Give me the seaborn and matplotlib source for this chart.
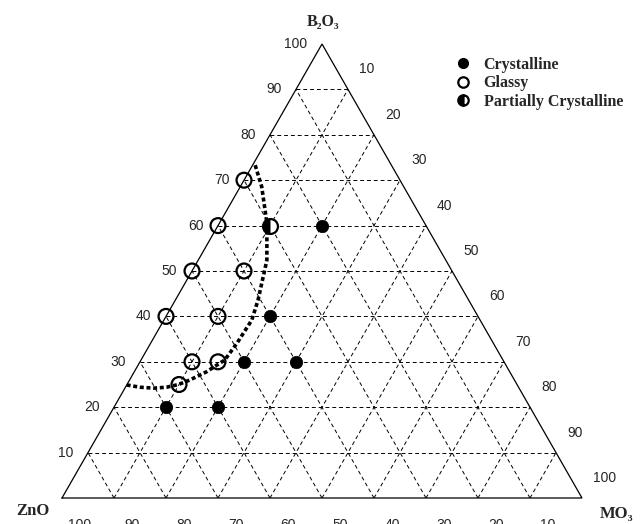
import numpy as np
import pandas as pd
import matplotlib
matplotlib.use("Agg")
import matplotlib.pyplot as plt
from matplotlib.lines import Line2D
from matplotlib.markers import MarkerStyle
import seaborn as sns

# ---- data: compositions in mol% (ZnO = 100 - B2O3 - MO3) ----
cryst_b2o3 = [60, 40, 30, 30, 20, 20]
cryst_mo3 = [20, 20, 20, 30, 10, 20]
glassy_b2o3 = [70, 60, 50, 40, 50, 40, 30, 30, 25]
glassy_mo3 = [0, 0, 0, 0, 10, 10, 10, 15, 10]
partial_b2o3 = [60]
partial_mo3 = [10]
# glass-forming boundary (dotted curve)
boundary_b2o3 = [73.3, 68.6, 60.6, 52.4, 43.6, 39.2, 34.1, 30.4, 27.8, 26.0, 25.0, 24.4, 24.2, 24.4, 24.9]
boundary_mo3 = [0.5, 4.1, 9.1, 13.2, 15.9, 16.9, 16.6, 16.1, 13.9, 11.6, 9.9, 7.9, 5.5, 2.8, 0.0]
left_ticks = [10, 20, 30, 40, 50, 60, 70, 80, 90, 100]     # B2O3
right_ticks = [10, 20, 30, 40, 50, 60, 70, 80, 90, 100]    # MO3
bottom_ticks = [100, 90, 80, 70, 60, 50, 40, 30, 20, 10]   # ZnO
grid_levels = [10, 20, 30, 40, 50, 60, 70, 80, 90]
legend_labels = ["Crystalline", "Glassy", "Partially Crystalline"]

S = np.sqrt(3) / 2


def to_xy(b, m):
    b = np.asarray(b, float)
    m = np.asarray(m, float)
    return m + b / 2, b * S


sns.set_style("white")
SERIF = ["Liberation Serif", "DejaVu Serif"]
SANS = ["Liberation Sans", "DejaVu Sans"]

W, H = 644, 524
fig = plt.figure(figsize=(W / 100, H / 100), dpi=100)
ax = fig.add_axes([62 / W, 26 / H, 520 / W, 454 / H])
ax.set_xlim(0, 100)
ax.set_ylim(0, 100 * S)
ax.axis("off")

# grid
gkw = dict(color="black", lw=0.7, dashes=(4, 3), zorder=1)
for k in grid_levels:
    ax.plot([k / 2, 100 - k / 2], [k * S, k * S], **gkw)
    ax.plot([k, k + (100 - k) / 2], [0, (100 - k) * S], **gkw)
    ax.plot([100 - k, (100 - k) / 2], [0, (100 - k) * S], **gkw)

# triangle
ax.plot([0, 100, 50, 0], [0, 0, 100 * S, 0], color="black", lw=0.9, zorder=2,
        clip_on=False, solid_joinstyle="miter")

# points
cx, cy = to_xy(cryst_b2o3, cryst_mo3)
gx, gy = to_xy(glassy_b2o3, glassy_mo3)
px, py = to_xy(partial_b2o3, partial_mo3)

sns.scatterplot(x=cx, y=cy, ax=ax, color="black", s=80, edgecolor="black",
                linewidth=0.5, zorder=4, clip_on=False)
sns.scatterplot(x=gx, y=gy, ax=ax, color="black", facecolor="none", edgecolor="black",
                s=115, linewidth=1.6, zorder=4, clip_on=False)
sns.scatterplot(x=px, y=py, ax=ax, color="black", facecolor="white", edgecolor="black",
                s=115, linewidth=1.6, zorder=4, clip_on=False)
sns.scatterplot(x=px, y=py, ax=ax, marker=MarkerStyle("o", fillstyle="left"),
                color="black", edgecolor="black", s=115, linewidth=0, zorder=5,
                clip_on=False)

# boundary curve
bx, by = to_xy(boundary_b2o3, boundary_mo3)
sns.lineplot(x=bx, y=by, ax=ax, sort=False, estimator=None, color="black", lw=2.6,
             zorder=6)
ax.lines[-1].set_linestyle((0, (1.1, 0.75)))

# tick labels
for v in left_ticks:
    x, y = to_xy(v, 0)
    ax.annotate(str(v), (x, y), xytext=(-10.5, 0), textcoords="offset points",
                ha="right", va="center", fontsize=10, family=SANS, annotation_clip=False)
for v in right_ticks:
    x, y = to_xy(100 - v, v)
    ax.annotate(str(v), (x, y), xytext=(8, 14.4), textcoords="offset points",
                ha="left", va="center", fontsize=10, family=SANS, annotation_clip=False)
for v in bottom_ticks:
    x, y = to_xy(0, 100 - v)
    ax.annotate(str(v), (x, y), xytext=(13, -19.5), textcoords="offset points",
                ha="center", va="center", fontsize=10, family=SANS, annotation_clip=False)

# component labels
fig.text(323 / W, 1 - 22 / H, "B\u2082O\u2083", ha="center", va="center",
         fontsize=11.5, fontweight="bold", family=SERIF)
fig.text(33 / W, 1 - 511 / H, "ZnO", ha="center", va="center",
         fontsize=12, fontweight="bold", family=SERIF)
fig.text(617 / W, 1 - 514 / H, "MO\u2083", ha="center", va="center",
         fontsize=12, fontweight="bold", family=SERIF)

# legend
handles = [
    Line2D([], [], ls="none", marker="o", ms=7, mfc="black", mec="black"),
    Line2D([], [], ls="none", marker="o", ms=7.5, mfc="white", mec="black", mew=1.6),
    Line2D([], [], ls="none", marker="o", ms=7.5, mfc="black", mfcalt="white",
           fillstyle="left", mec="black", mew=1.6),
]
leg = fig.legend(handles, legend_labels, loc="upper left",
                 bbox_to_anchor=(455 / W, 1 - 57 / H), frameon=False,
                 borderpad=0, borderaxespad=0, handlelength=1.0, handletextpad=0.8,
                 labelspacing=0.15, prop=dict(family=SERIF, size=11.5, weight="bold"))

fig.savefig("out.png", dpi=100)
